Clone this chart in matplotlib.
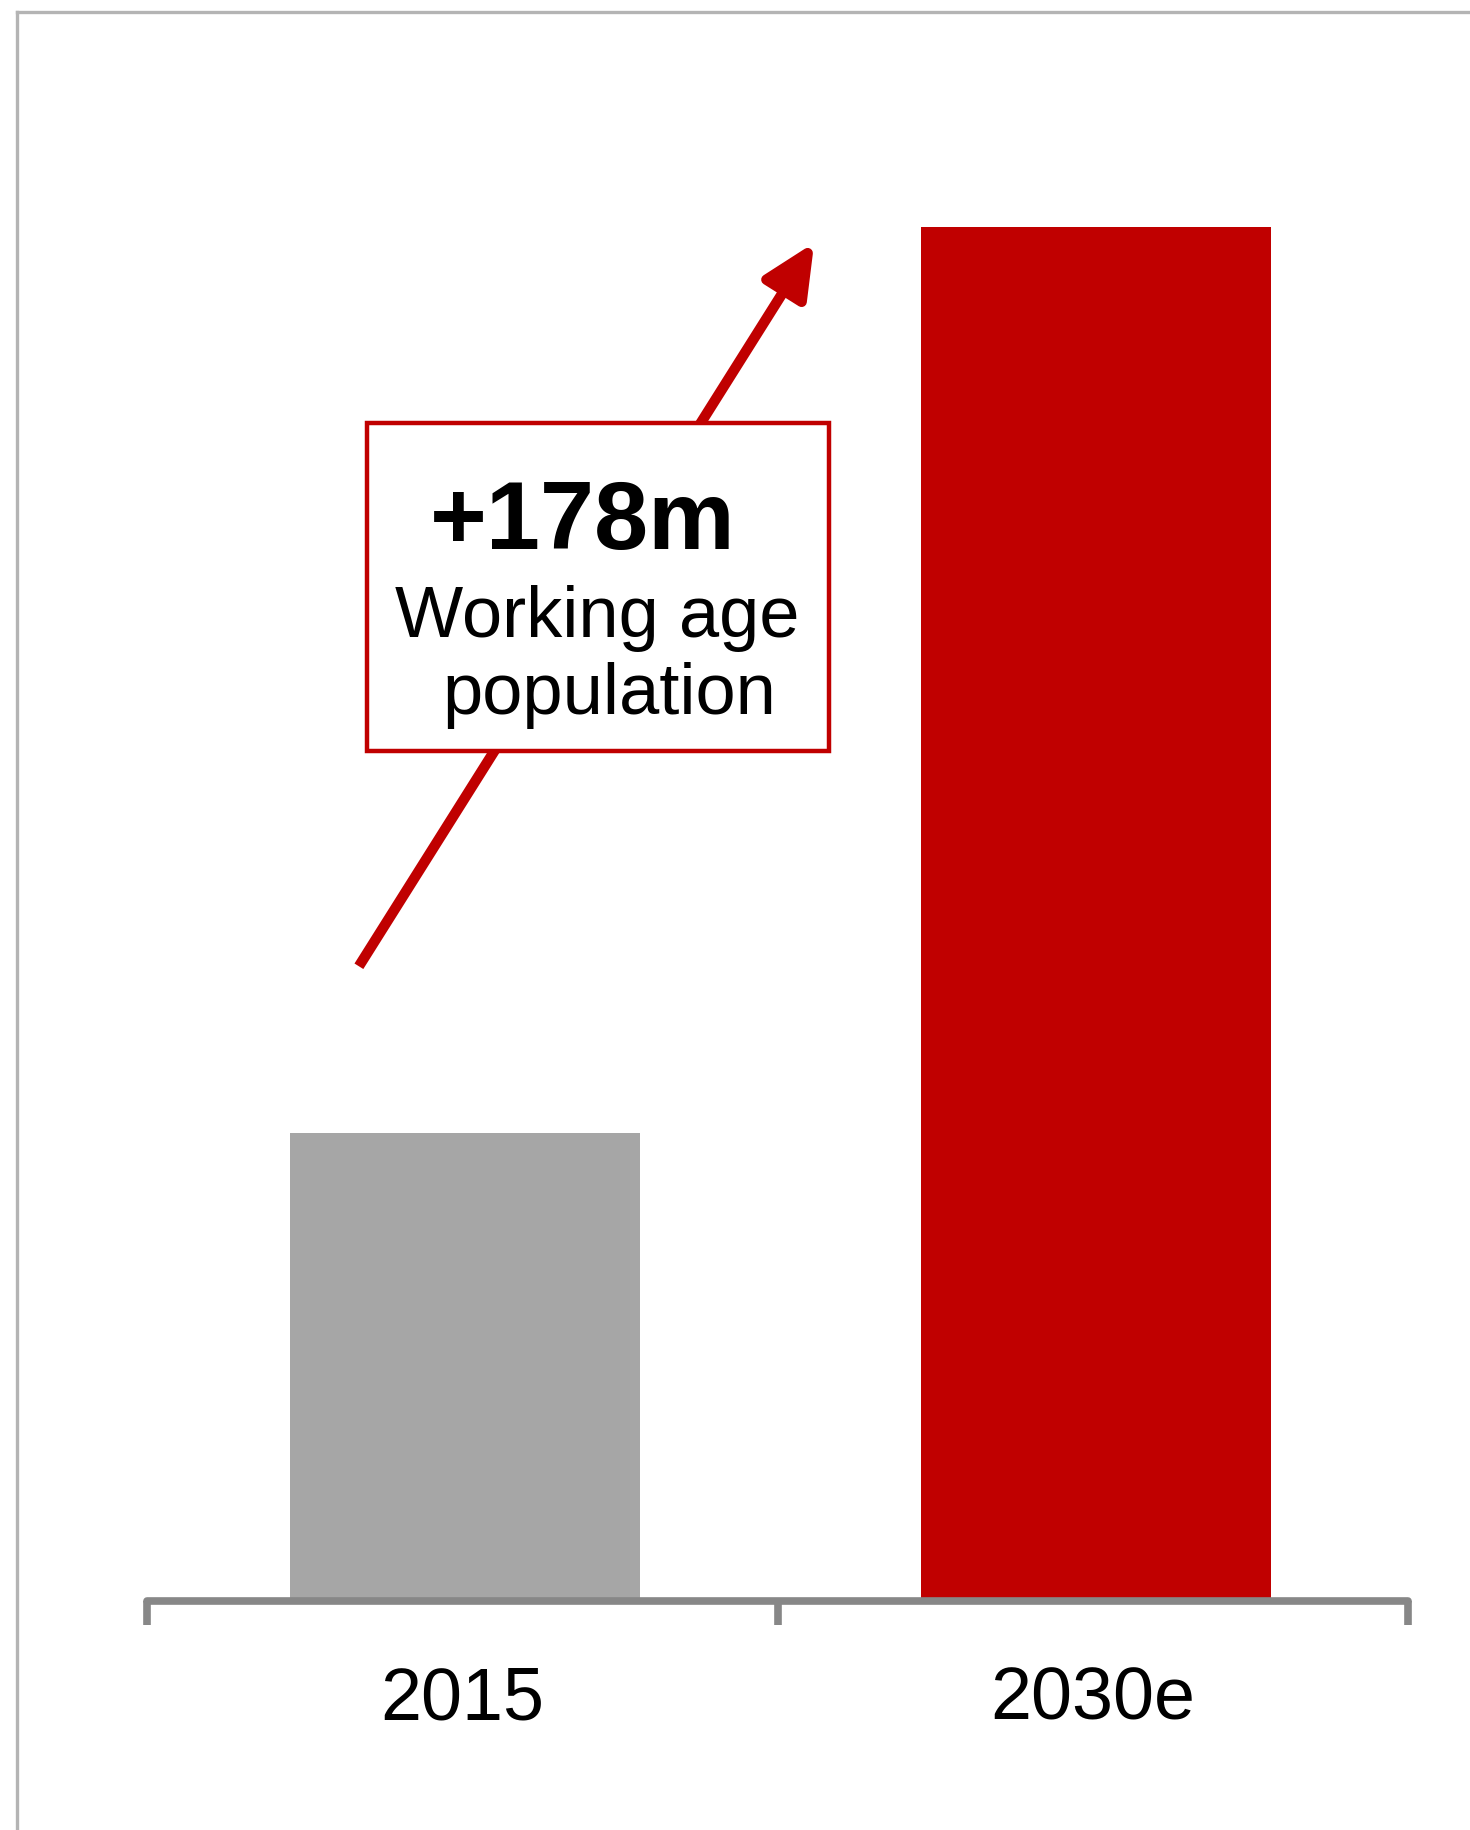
import matplotlib
matplotlib.use('Agg')
import matplotlib.pyplot as plt
from matplotlib.patches import Rectangle
from matplotlib.lines import Line2D

plt.rcParams['font.family'] = ['Liberation Sans', 'DejaVu Sans']

# data
categories = ['2015', '2030e']
values = [92, 270]          # working age population (m)
bar_colors = ['#A6A6A6', '#C00000']
change_label = '+178m'
box_text = ['Working age', 'population']

RED = '#C00000'
AXIS_GREY = '#878787'

fig = plt.figure(figsize=(14.7, 18.3), dpi=100)
ax = fig.add_axes([0.1, 0.125, 0.858, 0.8683])

ax.bar([0.005, 1.005], values, width=0.555, color=bar_colors, zorder=1)

ax.set_xlim(-0.5, 1.5)
ax.set_ylim(0, 312.3)
for s in ['top', 'left', 'right']:
    ax.spines[s].set_visible(False)
ax.spines['bottom'].set_color(AXIS_GREY)
ax.spines['bottom'].set_linewidth(5.5)
ax.spines['bottom'].set_capstyle('round')
ax.set_yticks([])

# boundary ticks + centred labels
ax.set_xticks([-0.5, 0.5, 1.5])
ax.set_xticklabels([])
ax.set_xticks(range(len(categories)), labels=categories, minor=True)
ax.tick_params(axis='x', which='major', length=17, width=5.5, color=AXIS_GREY, direction='out')
ax.tick_params(axis='x', which='minor', length=0, pad=46, labelsize=53)

# arrow behind the callout box
ax.annotate('', xy=(0.558, 267.0), xytext=(-0.164, 124.8),
            arrowprops=dict(arrowstyle='-|>,head_length=1.6,head_width=0.75', lw=7.5,
                            color=RED, mutation_scale=20, shrinkA=0, shrinkB=0,
                            capstyle='butt'),
            annotation_clip=False, zorder=2.5)

ax.add_patch(Rectangle((-0.151, 167.2), 0.733, 64.3, facecolor='white', edgecolor=RED,
                       lw=3.2, zorder=3, clip_on=False))
ax.text(0.1915, 206.9, change_label, ha='center', va='baseline', fontsize=70,
        fontweight='bold', zorder=4)
ax.text(0.2137, 189.6, box_text[0], ha='center', va='baseline', fontsize=52, zorder=4)
ax.text(0.233, 174.3, box_text[1], ha='center', va='baseline', fontsize=52, zorder=4)

# frame lines (top and left)
fig.add_artist(Line2D([0.0116, 1.0], [0.9934, 0.9934], color='#B4B4B4', lw=2.4,
                      transform=fig.transFigure))
fig.add_artist(Line2D([0.0116, 0.0116], [0.0, 0.9934], color='#B4B4B4', lw=2.4,
                      transform=fig.transFigure))

fig.savefig('out.png', dpi=100)
